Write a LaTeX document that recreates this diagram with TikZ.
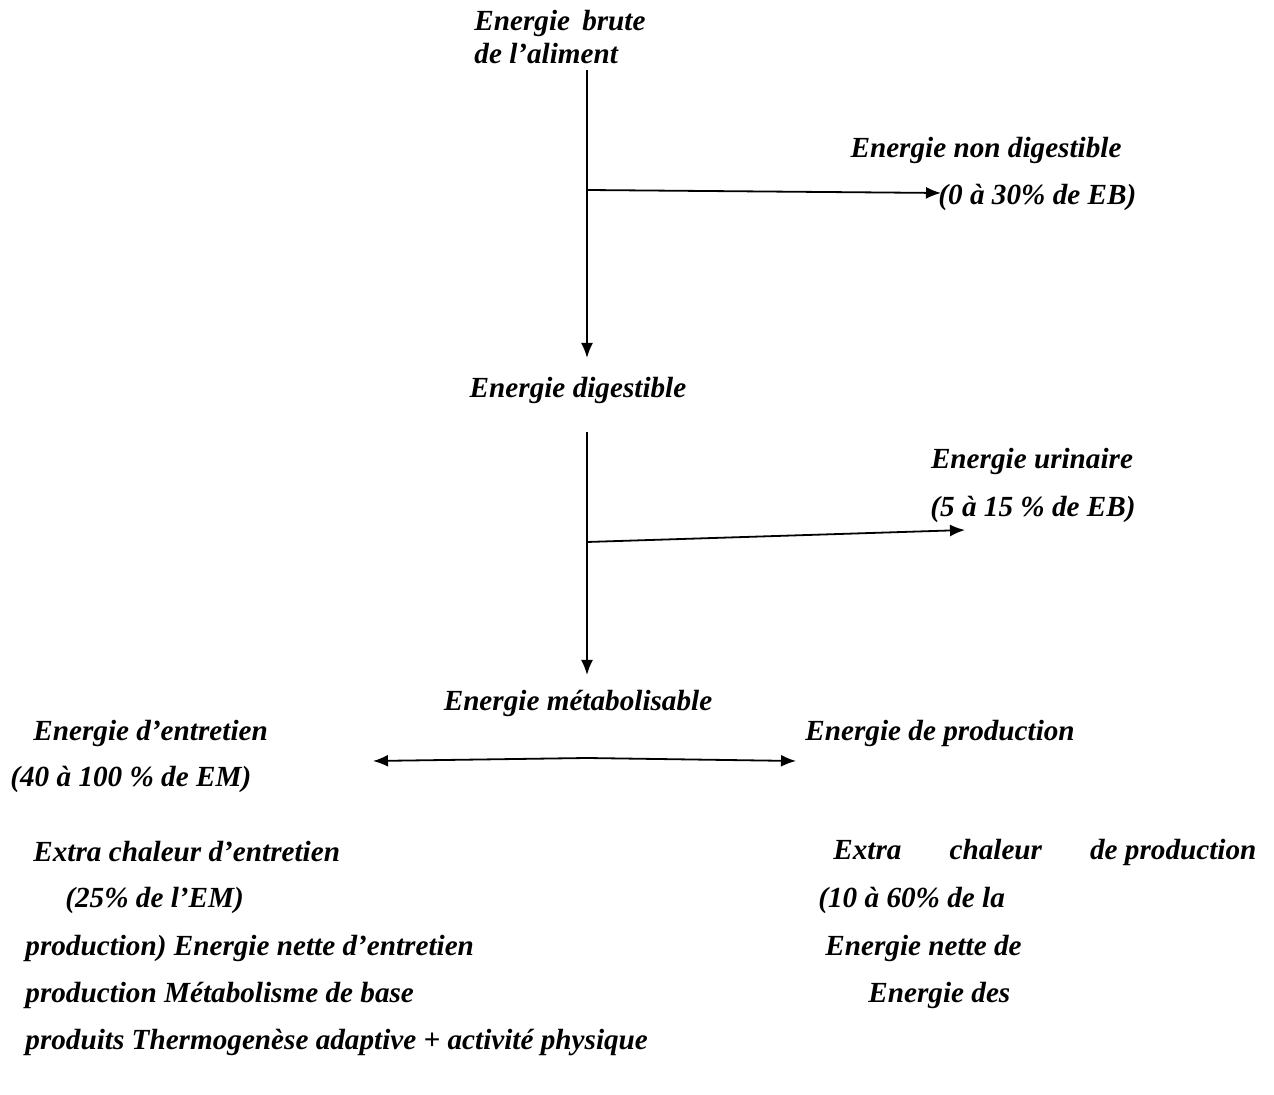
\documentclass[tikz,border=0pt]{standalone}
\usepackage{fontspec}
\setmainfont{Liberation Serif}
\usetikzlibrary{arrows.meta}

\begin{document}
\begin{tikzpicture}[
    x=0.5pt, y=-0.5pt,
    % Style des textes du schema (gras italique)
    etiquette/.style={font=\fontsize{14.6}{16.5}\selectfont\bfseries\itshape, inner sep=0pt},
    % Style des fleches
    fleche/.style={->, >={Latex[length=7.5pt,width=6pt]}, line width=0.9pt}
]
    \useasboundingbox (0,0) rectangle (1274,1095);

    % ==========================================
    % 1. AXE CENTRAL (EB -> ED -> EM)
    % ==========================================
    \node[etiquette, anchor=west, align=left] (eb) at (474,37) {Energie \,brute\\de l'aliment};
    \coordinate (haut) at (587,70);
    \coordinate (bras1) at (587,190);
    \node[etiquette] (ed) at (578,390) {Energie digestible};
    \coordinate (milieu) at (587,432);
    \coordinate (bras2) at (587,542);
    \node[etiquette] (em) at (578,703) {Energie métabolisable};

    \draw[fleche] (haut) -- (587,358);
    \draw[fleche] (milieu) -- (587,675);

    % ==========================================
    % 2. PERTES (fecale et urinaire)
    % ==========================================
    \node[etiquette] (end) at (986,150) {Energie non digestible};
    \node[etiquette, anchor=west] (end2) at (938,197) {(0 à 30\% de EB)};
    \coordinate (pointe1) at (941,193);
    \draw[fleche] (bras1) -- (pointe1);

    \node[etiquette] (eu) at (1032,461) {Energie urinaire};
    \node[etiquette, anchor=west] (eu2) at (930,509) {(5 à 15 \% de EB)};
    \coordinate (pointe2) at (965,530);
    \draw[fleche] (bras2) -- (pointe2);

    % ==========================================
    % 3. PARTAGE DE L'EM
    % ==========================================
    \node[etiquette, anchor=west] (eent) at (33,733) {Energie d'entretien};
    \node[etiquette, anchor=west] (eent2) at (10,779) {(40 à 100 \% de EM)};
    \node[etiquette, anchor=west] (eprod) at (805,733) {Energie de production};
    \coordinate (centre) at (587,758);
    \coordinate (gauche) at (373,761);
    \coordinate (droite) at (796,761);
    \draw[fleche] (centre) -- (gauche);
    \draw[fleche] (centre) -- (droite);

    % ==========================================
    % 4. TEXTES DU BAS
    % ==========================================
    \node[etiquette, anchor=west] (g1) at (33,852) {Extra chaleur d'entretien};
    \node[etiquette, anchor=west] (g2) at (65,900) {(25\% de l'EM)};
    \node[etiquette, anchor=west] (g3) at (25,948) {production) Energie nette d'entretien};
    \node[etiquette, anchor=west] (g4) at (25,995) {production Métabolisme de base};
    \node[etiquette, anchor=west] (g5) at (25,1043) {produits Thermogenèse adaptive + activité physique};

    \node[etiquette, anchor=west] (d1) at (833,852) {\makebox[211.5pt][s]{Extra chaleur \mbox{de production}}};
    \node[etiquette, anchor=west] (d2) at (818,900) {(10 à 60\% de la};
    \node[etiquette, anchor=west] (d3) at (825,948) {Energie nette de};
    \node[etiquette, anchor=west] (d4) at (868,995) {Energie des};

\end{tikzpicture}
\end{document}
